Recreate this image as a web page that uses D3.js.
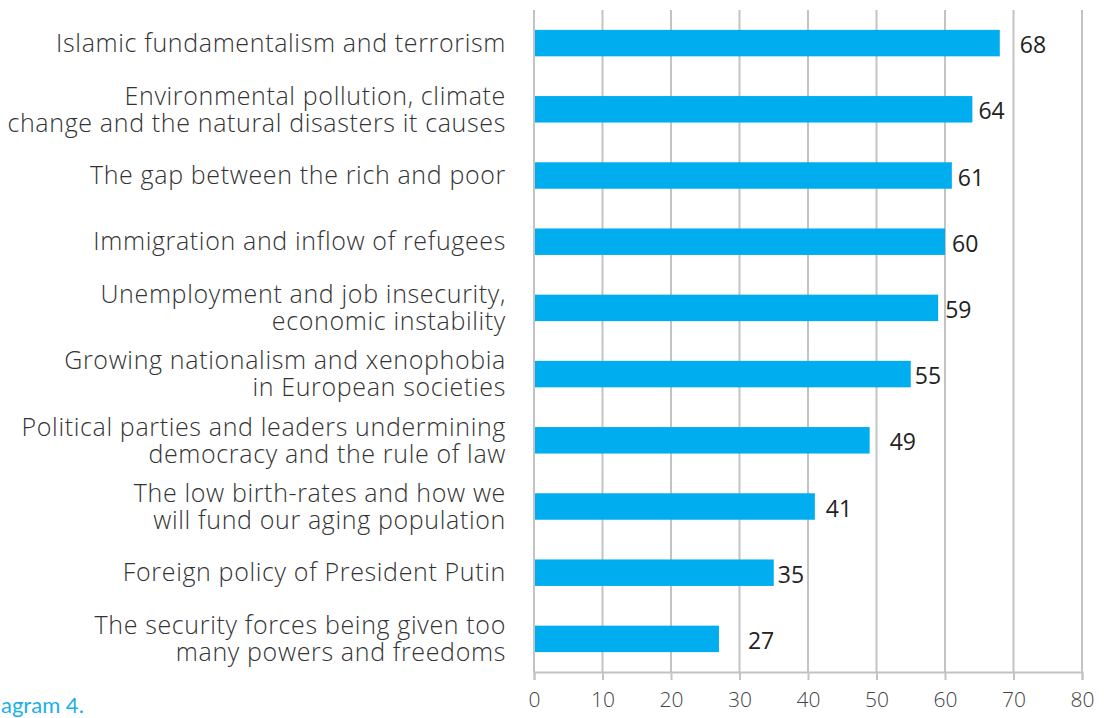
<!DOCTYPE html>
<html>
<head>
<meta charset="utf-8">
<script src="https://cdn.jsdelivr.net/npm/d3@7"></script>
<style>
    body { margin: 0; background: #fff; }
    svg { display: block; }
</style>
</head>
<body>
<div id="chart"></div>
<script>
(function () {

    'use strict';

    // data
    var categories = [
        ['Islamic fundamentalism and terrorism'],
        ['Environmental pollution, climate', 'change and the natural disasters it causes'],
        ['The gap between the rich and poor'],
        ['Immigration and inflow of refugees'],
        ['Unemployment and job insecurity,', 'economic instability'],
        ['Growing nationalism and xenophobia', 'in European societies'],
        ['Political parties and leaders undermining', 'democracy and the rule of law'],
        ['The low birth-rates and how we', 'will fund our aging population'],
        ['Foreign policy of President Putin'],
        ['The security forces being given too', 'many powers and freedoms']
    ];
    var values = [68, 64, 61, 60, 59, 55, 49, 41, 35, 27];
    var xTicks = [0, 10, 20, 30, 40, 50, 60, 70, 80];

    // label nudges, px (layout only)
    var labelDx = [20, 6, 6, 7, 7, 4, 20, 11, 4, 29];

    var width = 1104;
    var height = 718;

    var margin = {top: 10, right: 22, bottom: 46, left: 534};

    var gridColor = '#c3c3c6';
    var barColor = '#00aeef';
    var lineHeight = 27;

    var svg = d3.select('#chart')
        .append('svg')
        .attr('width', width)
        .attr('height', height);

    var x = d3.scaleLinear()
        .domain([0, 80])
        .range([margin.left, width - margin.right]);

    var y = d3.scaleBand()
        .domain(d3.range(categories.length))
        .range([margin.top, height - margin.bottom])
        .paddingInner(0.6)
        .paddingOuter(0.3);

    // grid lines
    svg.append('g')
        .selectAll('line')
        .data(xTicks)
        .enter()
        .append('line')
        .attr('x1', function (d) { return x(d); })
        .attr('x2', function (d) { return x(d); })
        .attr('y1', margin.top)
        .attr('y2', height - margin.bottom)
        .attr('stroke', gridColor)
        .attr('stroke-width', 2);

    // bottom axis
    var xAxis = svg.append('g')
        .attr('transform', 'translate(0,' + (height - margin.bottom) + ')')
        .call(d3.axisBottom(x).tickValues(xTicks).tickSize(8).tickPadding(12));

    xAxis.select('.domain')
        .attr('stroke', gridColor)
        .attr('stroke-width', 2);

    xAxis.selectAll('.tick line')
        .attr('stroke', gridColor)
        .attr('stroke-width', 2);

    xAxis.selectAll('.tick text')
        .attr('fill', '#444')
        .style('font-family', '"Open Sans", sans-serif')
        .style('font-weight', 300)
        .style('font-size', '21px');

    // bars
    svg.append('g')
        .selectAll('rect')
        .data(values)
        .enter()
        .append('rect')
        .attr('x', x(0) + 1)
        .attr('y', function (d, i) { return y(i); })
        .attr('width', function (d) { return x(d) - x(0) - 1; })
        .attr('height', y.bandwidth())
        .attr('fill', barColor);

    // value labels
    svg.append('g')
        .selectAll('text')
        .data(values)
        .enter()
        .append('text')
        .attr('x', function (d, i) { return x(d) + labelDx[i]; })
        .attr('y', function (d, i) { return y(i) + y.bandwidth() / 2 + 2; })
        .attr('dy', '0.35em')
        .attr('fill', '#222')
        .style('font-family', '"Open Sans", sans-serif')
        .style('font-weight', 500)
        .style('font-size', '23px')
        .text(function (d) { return d; });

    // category labels
    var catLabels = svg.append('g')
        .selectAll('text')
        .data(categories)
        .enter()
        .append('text')
        .attr('text-anchor', 'end')
        .attr('fill', '#333')
        .style('font-family', '"Open Sans", sans-serif')
        .style('font-weight', 300)
        .style('font-size', '25px')
        .style('letter-spacing', '0.65px')
        .attr('transform', function (d, i) {
            var cy = y(i) + y.bandwidth() / 2;
            var offset = -(d.length - 1) * lineHeight / 2;
            return 'translate(506,' + (cy + offset) + ')';
        });

    catLabels.selectAll('tspan')
        .data(function (d) { return d; })
        .enter()
        .append('tspan')
        .attr('x', 0)
        .attr('dy', function (d, i) { return i === 0 ? '0.35em' : lineHeight; })
        .text(function (d) { return d; });

    // caption, only its right part shows in the picture
    svg.append('text')
        .attr('x', 1)
        .attr('y', 713)
        .attr('fill', '#1ab0e8')
        .style('font-family', 'Lato, sans-serif')
        .style('font-size', '22px')
        .text('agram 4.');

}());
</script>
</body>
</html>
